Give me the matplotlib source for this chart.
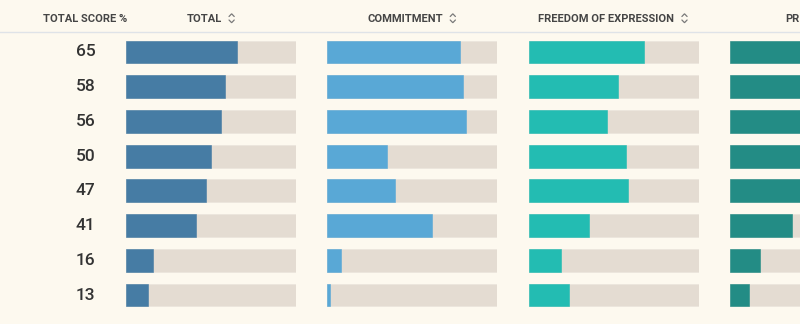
"""Index bar table: total score plus category sub-scores per row."""
import matplotlib

matplotlib.use("Agg")
import matplotlib.pyplot as plt
from matplotlib.lines import Line2D

# scores (fractions of a full bar)
TOTAL_SCORES = [65, 58, 56, 50, 47, 41, 16, 13]
COMMITMENT = [0.78, 0.80, 0.82, 0.35, 0.40, 0.62, 0.08, 0.02]
FREEDOM = [0.68, 0.525, 0.46, 0.576, 0.588, 0.357, 0.19, 0.237]
PRIVACY = [0.80, 0.72, 0.76, 0.62, 0.58, 0.367, 0.175, 0.112]

HEADERS = ["TOTAL", "COMMITMENT", "FREEDOM OF EXPRESSION", "PRIVACY"]
COLORS = ["#467ca4", "#59a8d6", "#23bcb2", "#238c85"]

BG = "#fdf9ef"
TRACK = "#e4dcd2"
TEXT = "#333333"
HEAD = "#454545"

plt.rcParams["font.family"] = ["Roboto", "DejaVu Sans"]

W, H = 800, 324
fig = plt.figure(figsize=(W / 100, H / 100), dpi=100, facecolor=BG)
renderer = fig.canvas.get_renderer()

col_left = [126, 327, 528.5, 730]
col_width = 170
row_top, row_bottom = 34.6, 312.4
head_y = 19.0

series = [[v / 100 for v in TOTAL_SCORES], COMMITMENT, FREEDOM, PRIVACY]
n = len(TOTAL_SCORES)
rows = list(range(n))


def px(x, y):
    """Pixel position (from top-left) to figure fraction."""
    return x / W, 1 - y / H


def sort_icon(x):
    """Small up/down chevron pair used as a sort marker."""
    for ys in ((16.5, 13.8, 16.5), (20.0, 22.7, 20.0)):
        xs = (x - 2.6, x, x + 2.6)
        fx = [v / W for v in xs]
        fy = [1 - v / H for v in ys]
        fig.add_artist(Line2D(fx, fy, color="#7a7a7a", linewidth=0.9,
                              solid_capstyle="round", solid_joinstyle="miter"))


for i, (x0, vals, color, head) in enumerate(zip(col_left, series, COLORS, HEADERS)):
    ax = fig.add_axes([x0 / W, 1 - row_bottom / H, col_width / W, (row_bottom - row_top) / H])
    ax.set_facecolor("none")
    ax.barh(rows, [1] * n, height=0.66, color=TRACK, edgecolor="#ece6dd", linewidth=0.6)
    ax.barh(rows, vals, height=0.66, color=color, edgecolor=color, linewidth=0.4)
    ax.set_xlim(0, 1)
    ax.set_ylim(n - 0.5, -0.5)
    ax.axis("off")

    # header text plus sort icon, centred as a group over the column
    cx = x0 + col_width / 2
    t = fig.text(*px(cx, head_y), head, ha="center", va="center",
                 fontsize=8, fontweight="bold", color=HEAD)
    tw = t.get_window_extent(renderer).width
    shift = 7
    t.set_position(px(cx - shift, head_y))
    sort_icon(cx - shift + tw / 2 + 10)

    if i == 0:
        for r, score in zip(rows, TOTAL_SCORES):
            ax.text((85.7 - x0) / col_width, r, str(score), ha="center", va="center",
                    fontsize=12.5, fontweight="medium", color=TEXT, clip_on=False)

fig.text(*px(85.5, head_y), "TOTAL SCORE %", ha="center", va="center",
         fontsize=8, fontweight="bold", color=HEAD)

# header separator line
fig.add_artist(Line2D([0, 1], [1 - 32.3 / H] * 2, color="#dfe3e8", linewidth=1))

fig.savefig("out.png", dpi=100, facecolor=BG)
